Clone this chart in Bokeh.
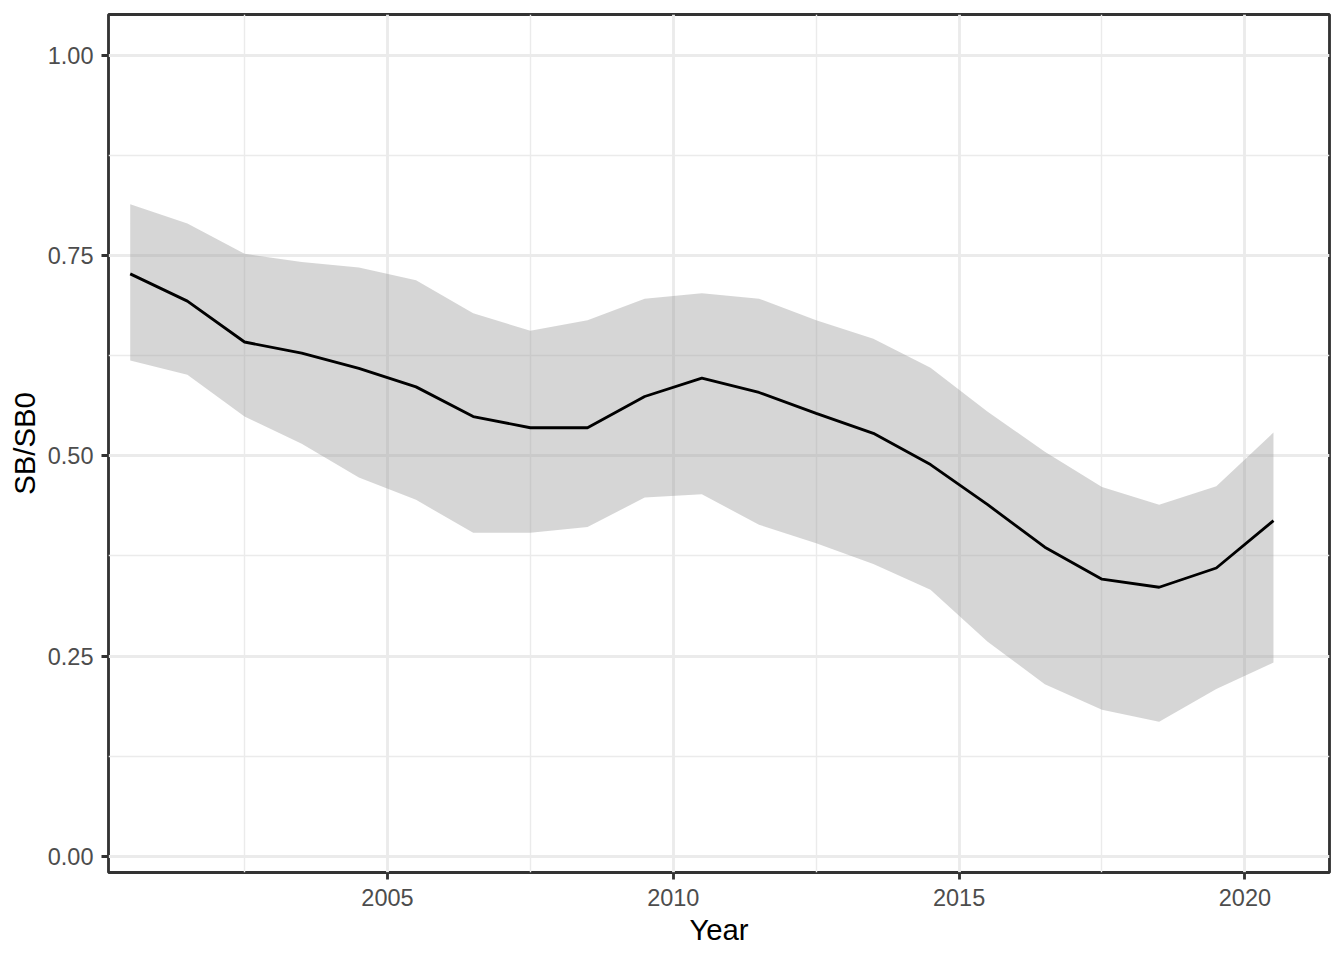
from bokeh.plotting import figure
from bokeh.models import FixedTicker, Range1d
from bokeh.embed import file_html
from bokeh.resources import INLINE

years = [2000.5, 2001.5, 2002.5, 2003.5, 2004.5, 2005.5, 2006.5, 2007.5, 2008.5, 2009.5,
         2010.5, 2011.5, 2012.5, 2013.5, 2014.5, 2015.5, 2016.5, 2017.5, 2018.5, 2019.5, 2020.5]
sb_median = [0.727, 0.693, 0.642, 0.628, 0.609, 0.586, 0.549, 0.535, 0.535, 0.574,
             0.597, 0.579, 0.553, 0.528, 0.489, 0.439, 0.386, 0.346, 0.336, 0.360, 0.419]
sb_upper = [0.814, 0.790, 0.752, 0.742, 0.735, 0.719, 0.678, 0.656, 0.669, 0.696,
            0.703, 0.696, 0.669, 0.646, 0.610, 0.555, 0.505, 0.461, 0.439, 0.462, 0.529]
sb_lower = [0.619, 0.601, 0.549, 0.515, 0.473, 0.445, 0.404, 0.404, 0.411, 0.448,
            0.452, 0.414, 0.391, 0.365, 0.333, 0.268, 0.215, 0.183, 0.168, 0.209, 0.242]

x_ticks = [2005, 2010, 2015, 2020]
x_tick_labels = ["2005", "2010", "2015", "2020"]
x_minor = [2002.5, 2007.5, 2012.5, 2017.5]
y_ticks = [0.0, 0.25, 0.5, 0.75, 1.0]
y_tick_labels = ["0.00", "0.25", "0.50", "0.75", "1.00"]
y_minor = [0.125, 0.375, 0.625, 0.875]

LW = 2.84
FONT = "Liberation Sans"

p = figure(frame_width=1221, frame_height=858,
           x_range=Range1d(2000.12, 2021.48), y_range=Range1d(-0.02, 1.0507),
           output_backend="svg", toolbar_location=None,
           min_border_left=108, min_border_top=14, min_border_right=15, min_border_bottom=88,
           background_fill_color="white", border_fill_color="white")

p.varea(x=years, y1=sb_lower, y2=sb_upper, fill_color="#999999", fill_alpha=0.4)
p.line(x=years, y=sb_median, line_color="black", line_width=LW)

p.xaxis.ticker = FixedTicker(ticks=x_ticks, minor_ticks=x_minor)
p.yaxis.ticker = FixedTicker(ticks=y_ticks, minor_ticks=y_minor)
p.xaxis.major_label_overrides = dict(zip(x_ticks, x_tick_labels))
p.yaxis.major_label_overrides = dict(zip(y_ticks, y_tick_labels))

for g in (p.xgrid, p.ygrid):
    g.grid_line_color = "#EBEBEB"
    g.grid_line_width = LW
    g.minor_grid_line_color = "#EBEBEB"
    g.minor_grid_line_width = LW / 2

p.outline_line_color = "#333333"
p.outline_line_width = LW
p.outline_line_alpha = 1.0

for ax in (p.xaxis, p.yaxis):
    ax.axis_line_color = None
    ax.major_tick_line_color = "#333333"
    ax.major_tick_line_width = LW
    ax.major_tick_in = 0
    ax.major_tick_out = 7
    ax.minor_tick_line_color = None
    ax.major_label_text_font = FONT
    ax.major_label_text_font_size = "23.5px"
    ax.major_label_text_color = "#4D4D4D"
    ax.axis_label_text_font = FONT
    ax.axis_label_text_font_size = "29.3px"
    ax.axis_label_text_font_style = "normal"
    ax.axis_label_text_color = "black"

p.xaxis.axis_label = "Year"
p.yaxis.axis_label = "SB/SB0"
p.xaxis.major_label_standoff = 9
p.yaxis.major_label_standoff = 8
p.xaxis.axis_label_standoff = 4
p.yaxis.axis_label_standoff = 4

open("out.html", "w").write(file_html(p, INLINE))
